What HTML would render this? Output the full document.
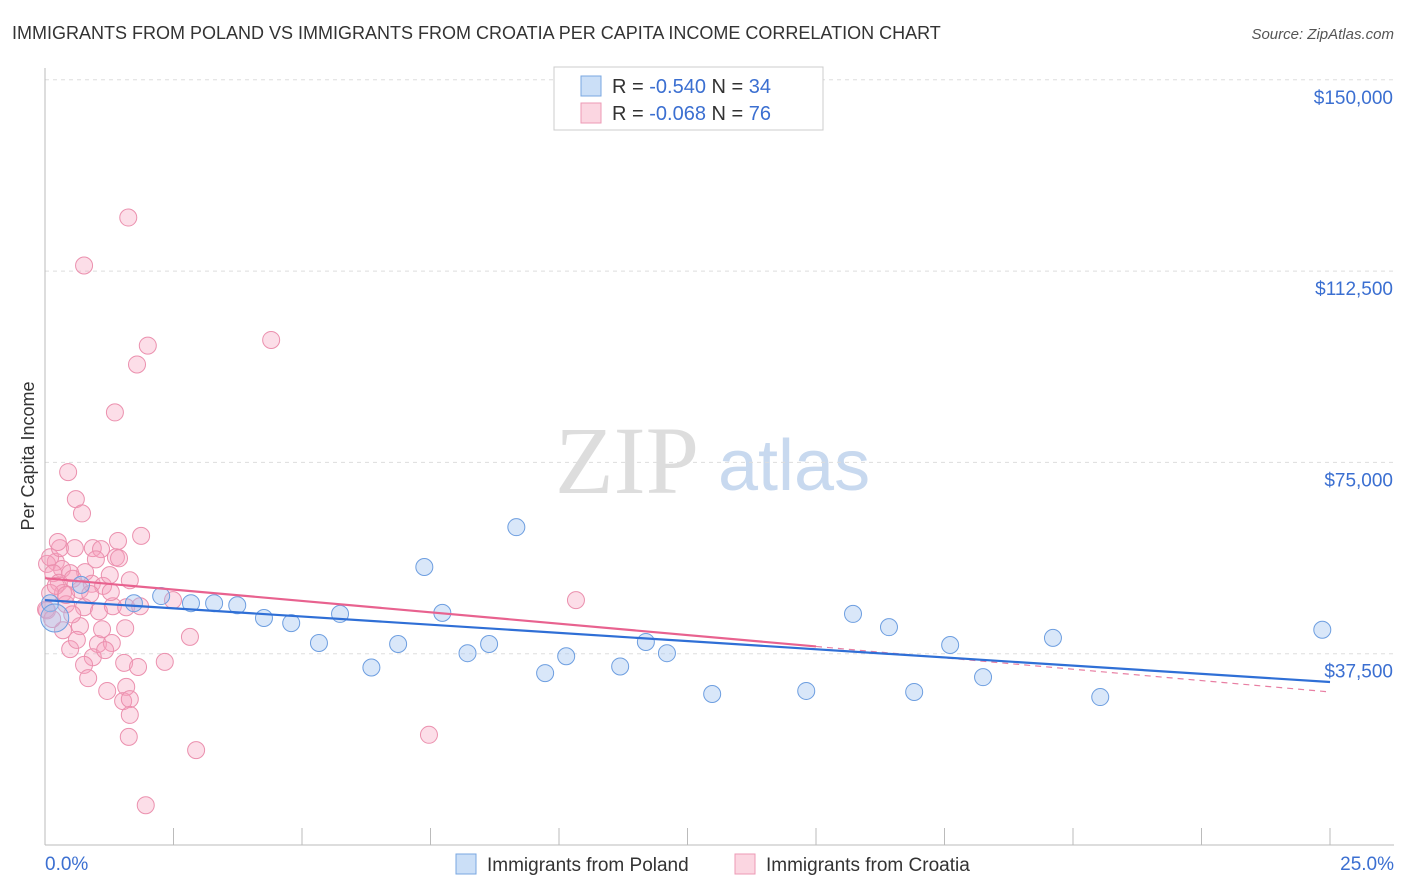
<!DOCTYPE html>
<html><head><meta charset="utf-8"><style>
body{margin:0;background:#fff;font-family:"Liberation Sans",sans-serif}
svg{display:block}
</style></head><body>
<svg id="chart" width="1406" height="892">
<text x="12" y="39" font-size="18" fill="#333">IMMIGRANTS FROM POLAND VS IMMIGRANTS FROM CROATIA PER CAPITA INCOME CORRELATION CHART</text>
<text x="1394" y="39" font-size="15" fill="#555" font-style="italic" text-anchor="end">Source: ZipAtlas.com</text>
<text transform="translate(34,456) rotate(-90)" font-size="18" fill="#333" text-anchor="middle">Per Capita Income</text>
<g>
<text x="555" y="493" font-size="96" font-family="Liberation Serif,serif" fill="#ddd">ZIP</text>
<text x="718" y="490" font-size="72" fill="#c8d9ef">atlas</text>
</g>
<g id="grid"></g><g id="axes"></g><g id="pts"></g><g id="trend"></g>
<g>
<rect x="554" y="67" width="269" height="63" fill="#fff" stroke="#ccc"/>
<rect x="581" y="76" width="20" height="20" fill="rgba(160,196,240,0.55)" stroke="#7aa7e0"/>
<rect x="581" y="103" width="20" height="20" fill="rgba(248,180,200,0.55)" stroke="#ec9ab5"/>
<text x="612" y="93" font-size="20" fill="#333">R = <tspan fill="#3b6fd1">-0.540</tspan>   N = <tspan fill="#3b6fd1">34</tspan></text>
<text x="612" y="120" font-size="20" fill="#333">R = <tspan fill="#3b6fd1">-0.068</tspan>   N = <tspan fill="#3b6fd1">76</tspan></text>
</g>
<g>
<rect x="456" y="854" width="20" height="20" fill="rgba(160,196,240,0.55)" stroke="#7aa7e0"/>
<text x="487" y="871" font-size="19" fill="#333">Immigrants from Poland</text>
<rect x="735" y="854" width="20" height="20" fill="rgba(248,180,200,0.55)" stroke="#ec9ab5"/>
<text x="766" y="871" font-size="19" fill="#333">Immigrants from Croatia</text>
</g>
</svg>
<script>
const yTicks=[37500,75000,112500,150000];
const yTickLabels=["$37,500","$75,000","$112,500","$150,000"];
const xTickLabels=["0.0%","25.0%"];
const polandX=[2.26,2.84,3.29,3.74,4.26,4.79,5.33,5.74,6.35,6.87,7.38,7.73,8.22,8.64,9.17,9.73,10.14,11.19,11.69,12.1,12.98,14.81,15.72,16.42,16.91,17.61,18.25,19.61,20.53,24.85,1.73,0.7,0.1,0.19];
const polandY=[48800,47400,47400,47000,44500,43500,39600,45300,34800,39400,54500,45500,37600,39400,62300,33700,37000,35000,39800,37600,29600,30200,45300,42700,30000,39200,32900,40600,29000,42200,47400,51000,47400,44500];
const croatiaX=[1.62,0.76,2.0,4.4,1.79,1.36,0.45,0.6,0.72,1.87,0.58,0.93,1.42,1.09,1.38,1.44,0.21,0.04,0.33,0.78,0.49,0.16,0.27,0.54,0.91,1.13,0.68,0.35,0.1,0.04,0.41,0.76,1.05,1.32,1.58,2.49,10.33,0.35,0.68,1.56,1.03,1.3,0.49,0.93,1.54,2.33,1.81,0.76,0.84,1.21,1.58,1.52,1.65,2.82,1.65,1.63,2.94,7.47,1.96,0.21,0.1,0.88,1.26,0.29,1.11,1.85,0.62,1.17,0.02,0.14,0.41,0.99,1.65,1.28,0.53,0.25];
const croatiaY=[123000,113600,97900,99000,94200,84800,73100,67800,65000,60600,58200,58200,59600,58000,56400,56200,55500,55100,54100,53500,53300,53300,51400,52200,51200,50800,50000,49400,49400,46000,47200,46600,45800,46800,46600,48000,48000,42100,42900,42500,39400,39600,38400,36800,35700,35900,34900,35300,32700,30200,31000,28200,28600,40800,25500,21200,18600,21600,7800,50800,56400,49200,52900,58200,42300,46800,40200,38200,46200,44300,49000,56000,51900,49600,45200,59400];
const trendX=[0,25];
const polandTrend=[48000,31950];
const croatiaTrend=[52300,30000];
const croatiaSolidEnd=15;
const NS="http://www.w3.org/2000/svg";
const X=v=>45+v/25*1285, Y=v=>845-v/37500*191.3;
function mk(t,a,p){const e=document.createElementNS(NS,t);for(const k in a)e.setAttribute(k,a[k]);p.appendChild(e);return e;}
const grid=document.getElementById('grid'),axes=document.getElementById('axes');
yTicks.forEach((v,i)=>{
 const l=mk('line',{x1:45,x2:1394,y1:Y(v),y2:Y(v),stroke:'#ddd','stroke-dasharray':'4,4'},grid);
 
 
 const t=mk('text',{x:1393,y:Y(v)+24,'font-size':19,fill:'#3b6fd1','text-anchor':'end'},axes);
 t.textContent=yTickLabels[i];
 
 
});
mk('line',{x1:45,x2:45,y1:68,y2:845,stroke:'#bbb'},axes);
mk('line',{x1:45,x2:1394,y1:845,y2:845,stroke:'#bbb'},axes);
for(let i=0;i<=10;i++){const x=X(i*2.5);mk('line',{x1:x,x2:x,y1:828,y2:845,stroke:'#bbb'},axes);}
[[0,'start',45],[1,'end',1394]].forEach(([i,a,x])=>{const t=mk('text',{x:x,y:870,'font-size':19,fill:'#3b6fd1','text-anchor':a},axes);t.textContent=xTickLabels[i];
 
 });
const pts=document.getElementById('pts');
croatiaX.forEach((x,i)=>{const c=mk('circle',{cx:X(x),cy:Y(croatiaY[i]),r:8.5,fill:'rgba(245,160,190,0.35)',stroke:'#eb90ae','stroke-width':1},pts);
 
 });
polandX.forEach((x,i)=>{const c=mk('circle',{cx:X(x),cy:Y(polandY[i]),r:(i==33?14:8.5),fill:'rgba(160,196,240,0.4)',stroke:'#6d9ee0','stroke-width':1},pts);
 
 });
const tr=document.getElementById('trend');
const lin=(a,x)=>a[0]+(a[1]-a[0])*(x-trendX[0])/(trendX[1]-trendX[0]);
let l=mk('line',{x1:X(croatiaSolidEnd),y1:Y(lin(croatiaTrend,croatiaSolidEnd)),x2:X(25),y2:Y(croatiaTrend[1]),stroke:'#e87fa3','stroke-width':1.2,'stroke-dasharray':'6,5'},tr);


l=mk('line',{x1:X(0),y1:Y(croatiaTrend[0]),x2:X(croatiaSolidEnd),y2:Y(lin(croatiaTrend,croatiaSolidEnd)),stroke:'#e8628f','stroke-width':2.2},tr);


l=mk('line',{x1:X(0),y1:Y(polandTrend[0]),x2:X(25),y2:Y(polandTrend[1]),stroke:'#2f6fd6','stroke-width':2.2},tr);


</script>
</body></html>
